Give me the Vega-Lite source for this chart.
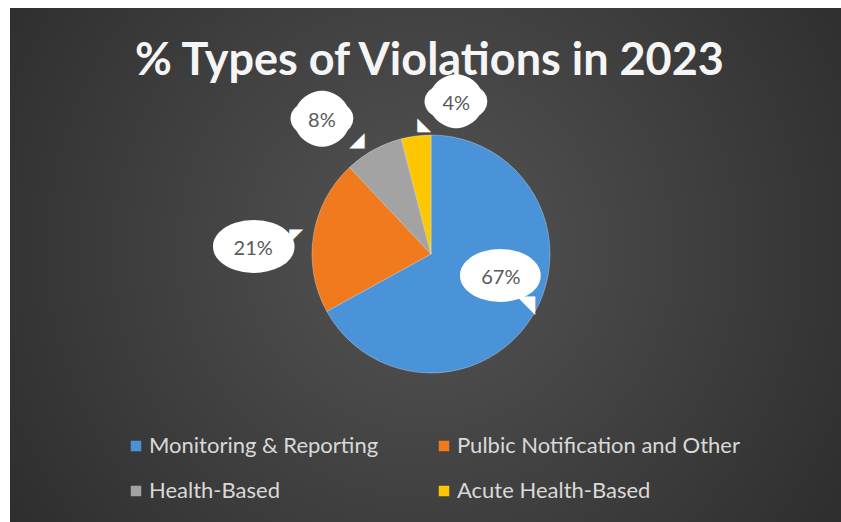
{
  "$schema": "https://vega.github.io/schema/vega-lite/v6.json",
  "width": 831,
  "height": 514,
  "autosize": {"type": "none"},
  "padding": {"left": 10, "top": 8, "right": 0, "bottom": 0},
  "background": "#ffffff",
  "config": {"view": {"stroke": null}},
  "title": {
    "text": "% Types of Violations in 2023",
    "font": "Lato", "fontSize": 45, "fontWeight": "bold", "color": "#f5f5f5",
    "anchor": "middle", "frame": "group", "orient": "top", "offset": -64, "dy": 48, "dx": 4, "baseline": "alphabetic"
  },
  "layer": [
    {
      "data": {"values": [{}]},
      "mark": {"type": "rect", "color": {"gradient": "radial", "x1": 0.5, "y1": 0.48, "r1": 0, "x2": 0.5, "y2": 0.48, "r2": 0.72,
        "stops": [{"offset": 0, "color": "#545454"}, {"offset": 1, "color": "#262626"}]}},
      "encoding": {}
    },
    {
      "data": {
        "values": [
          {"type": "Monitoring & Reporting", "share": 0.67},
          {"type": "Pulbic Notification and Other", "share": 0.21},
          {"type": "Health-Based", "share": 0.08},
          {"type": "Acute Health-Based", "share": 0.04}
        ]
      },
      "encoding": {
        "theta": {"field": "share", "type": "quantitative", "stack": true},
        "order": {"field": "share", "type": "quantitative", "sort": "descending"}
      },
      "layer": [
        {
          "mark": {"type": "arc", "outerRadius": 119, "xOffset": 5.5, "yOffset": -11, "stroke": "#ffffff", "strokeOpacity": 0.3, "strokeWidth": 1},
          "encoding": {
            "color": {
              "field": "type", "type": "nominal",
              "scale": {"domain": ["Monitoring & Reporting", "Pulbic Notification and Other", "Health-Based", "Acute Health-Based"],
                        "range": ["#4a93d8", "#f27a1e", "#a3a3a3", "#fcc700"]},
              "legend": {
                "orient": "none", "legendX": 115, "legendY": 427, "direction": "horizontal", "columns": 2,
                "title": null, "symbolType": "square", "symbolSize": 110, "symbolStrokeWidth": 0,
                "labelFont": "Lato", "labelFontSize": 22, "labelColor": "#d9d9d9", "labelOffset": 2,
                "columnPadding": 54, "rowPadding": 23, "labelLimit": 400
              }
            }
          }
        },
        {"mark": {"type": "text", "text": "◥", "font": "DejaVu Sans", "fontSize": 24, "color": "#ffffff", "radius": 80, "dx": 31.5, "dy": -1, "align": "center", "baseline": "middle"},
         "encoding": {"opacity": {"condition": {"test": "datum.type === 'Monitoring & Reporting'", "value": 1}, "value": 0}}},
        {"mark": {"type": "text", "text": "⬬", "font": "DejaVu Sans", "fontSize": 99, "color": "#ffffff", "radius": 80, "dx": 6.5, "dy": -28, "align": "center", "baseline": "middle"},
         "encoding": {"opacity": {"condition": {"test": "datum.type === 'Monitoring & Reporting'", "value": 1}, "value": 0}}},
        {"mark": {"type": "text", "font": "Lato", "fontSize": 20, "color": "#595959", "radius": 80, "dx": 6.5, "dy": -28, "align": "center", "baseline": "middle"},
         "encoding": {"text": {"field": "share", "type": "quantitative", "format": ".0%"},
                      "opacity": {"condition": {"test": "datum.type === 'Monitoring & Reporting'", "value": 1}, "value": 0}}},

        {"mark": {"type": "text", "text": "◤", "font": "DejaVu Sans", "fontSize": 18, "color": "#ffffff", "radius": 178, "dx": 46.5, "dy": -1, "align": "center", "baseline": "middle"},
         "encoding": {"opacity": {"condition": {"test": "datum.type === 'Pulbic Notification and Other'", "value": 1}, "value": 0}}},
        {"mark": {"type": "text", "text": "⬬", "font": "DejaVu Sans", "fontSize": 100, "color": "#ffffff", "radius": 178, "dx": 3.5, "dy": 12, "align": "center", "baseline": "middle"},
         "encoding": {"opacity": {"condition": {"test": "datum.type === 'Pulbic Notification and Other'", "value": 1}, "value": 0}}},
        {"mark": {"type": "text", "font": "Lato", "fontSize": 20, "color": "#595959", "radius": 178, "dx": 3.5, "dy": 12, "align": "center", "baseline": "middle"},
         "encoding": {"text": {"field": "share", "type": "quantitative", "format": ".0%"},
                      "opacity": {"condition": {"test": "datum.type === 'Pulbic Notification and Other'", "value": 1}, "value": 0}}},

        {"mark": {"type": "text", "text": "◢", "font": "DejaVu Sans", "fontSize": 20, "color": "#ffffff", "radius": 160, "dx": 8.5, "dy": 15, "align": "center", "baseline": "middle"},
         "encoding": {"opacity": {"condition": {"test": "datum.type === 'Health-Based'", "value": 1}, "value": 0}}},
        {"mark": {"type": "text", "text": "⬤", "font": "DejaVu Sans", "fontSize": 55, "color": "#ffffff", "radius": 160, "dx": -26.5, "dy": -9, "align": "center", "baseline": "middle"},
         "encoding": {"opacity": {"condition": {"test": "datum.type === 'Health-Based'", "value": 1}, "value": 0}}},
        {"mark": {"type": "text", "text": "⬬", "font": "DejaVu Sans", "fontSize": 77, "color": "#ffffff", "radius": 160, "dx": -26.5, "dy": -4, "align": "center", "baseline": "middle"},
         "encoding": {"opacity": {"condition": {"test": "datum.type === 'Health-Based'", "value": 1}, "value": 0}}},
        {"mark": {"type": "text", "font": "Lato", "fontSize": 20, "color": "#595959", "radius": 160, "dx": -26.5, "dy": -4, "align": "center", "baseline": "middle"},
         "encoding": {"text": {"field": "share", "type": "quantitative", "format": ".0%"},
                      "opacity": {"condition": {"test": "datum.type === 'Health-Based'", "value": 1}, "value": 0}}},

        {"mark": {"type": "text", "text": "◣", "font": "DejaVu Sans", "fontSize": 18, "color": "#ffffff", "radius": 150, "dx": 17.5, "dy": 9, "align": "center", "baseline": "middle"},
         "encoding": {"opacity": {"condition": {"test": "datum.type === 'Acute Health-Based'", "value": 1}, "value": 0}}},
        {"mark": {"type": "text", "text": "⬤", "font": "DejaVu Sans", "fontSize": 53, "color": "#ffffff", "radius": 150, "dx": 49.5, "dy": -17, "align": "center", "baseline": "middle"},
         "encoding": {"opacity": {"condition": {"test": "datum.type === 'Acute Health-Based'", "value": 1}, "value": 0}}},
        {"mark": {"type": "text", "text": "⬬", "font": "DejaVu Sans", "fontSize": 77, "color": "#ffffff", "radius": 150, "dx": 49.5, "dy": -12, "align": "center", "baseline": "middle"},
         "encoding": {"opacity": {"condition": {"test": "datum.type === 'Acute Health-Based'", "value": 1}, "value": 0}}},
        {"mark": {"type": "text", "font": "Lato", "fontSize": 20, "color": "#595959", "radius": 150, "dx": 49.5, "dy": -12, "align": "center", "baseline": "middle"},
         "encoding": {"text": {"field": "share", "type": "quantitative", "format": ".0%"},
                      "opacity": {"condition": {"test": "datum.type === 'Acute Health-Based'", "value": 1}, "value": 0}}}
      ]
    }
  ]
}
